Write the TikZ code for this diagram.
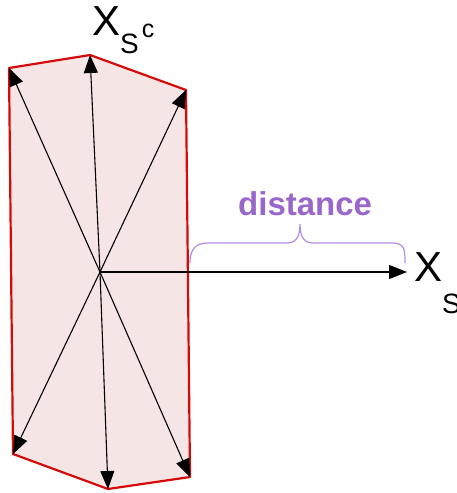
\documentclass[tikz,border=0pt]{standalone}
\usepackage{fontspec}
\setmainfont{Liberation Sans}
\usetikzlibrary{arrows.meta}
\definecolor{shapefill}{RGB}{246,229,229}
\definecolor{shapeline}{RGB}{215,10,10}
\definecolor{distpurple}{RGB}{153,102,204}
\definecolor{bracepurple}{RGB}{178,140,225}
\tikzset{
  vec/.style={draw=black, line width=1.1pt, -{Triangle[length=18pt,width=14pt]}},
  region/.style={draw=shapeline, fill=shapefill, line width=2.2pt, line join=round},
  bigtext/.style={anchor=base west, inner sep=0pt, font=\fontsize{42}{42}\selectfont},
}
\begin{document}
\begin{tikzpicture}[x=1pt,y=-1pt]
\useasboundingbox (0,0) rectangle (457,493);
\coordinate (tl) at (9,68);
\coordinate (t) at (90,55);
\coordinate (tr) at (186,90);
\coordinate (br) at (190,477);
\coordinate (b) at (108,489);
\coordinate (bl) at (13,454);
\coordinate (c) at (100,272);
\coordinate (e) at (407,272);
\path[region] (tl) -- (t) -- (tr) -- (br) -- (b) -- (bl) -- cycle;
\foreach \v in {tl,t,tr,br,b,bl} \draw[vec] (c) -- (\v);
\draw[vec] (c) -- (e);
\draw[draw=bracepurple, line width=1.2pt]
  (190,263) .. controls (190,250) and (195,243) .. (208,243) -- (287,243)
  .. controls (295,243) and (300,238) .. (300,224)
  .. controls (300,238) and (305,243) .. (313,243) -- (392,243)
  .. controls (405,243) and (405,250) .. (405,263);
\node[anchor=base west, inner sep=0pt, text=distpurple, font=\fontsize{33}{33}\selectfont\bfseries] (dist) at (238,215) {distance};
\node[bigtext] (xsc) at (92,35) {X\raisebox{-18pt}{\fontsize{28}{28}\selectfont S}\hspace{3pt}\raisebox{-2pt}{\fontsize{25}{25}\selectfont c}};
\node[bigtext] (xs) at (414,281) {X\raisebox{-32pt}{\fontsize{28}{28}\selectfont S}};
\end{tikzpicture}
\end{document}
